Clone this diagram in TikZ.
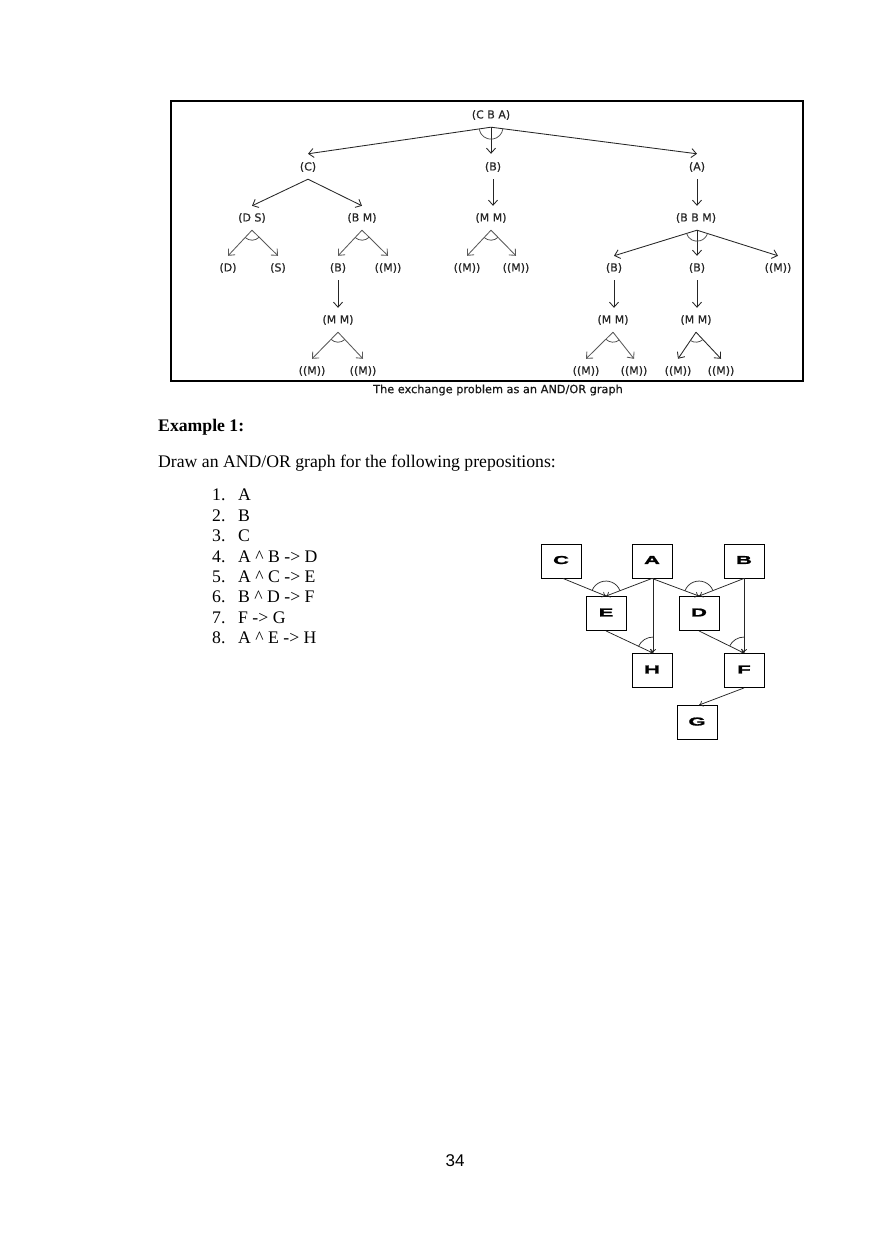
\documentclass[tikz,border=0pt]{standalone}
\usepackage{fontspec}
\usepackage{graphicx}
\setmainfont{Liberation Serif}
\newfontfamily\dvs[FakeBold=0.5]{DejaVu Sans}
\newfontfamily\lsans{Liberation Sans}
\newfontfamily\gfont[FakeBold=1.4]{Liberation Sans Bold}
\usetikzlibrary{arrows.meta,calc}
\newcommand\andarc[4]{%
  \draw[arcst] let \p1=($(#2)-(#1)$), \p2=($(#3)-(#1)$),
    \n1={atan2(\y1,\x1)}, \n2={atan2(\y2,\x2)} in
    ($(#1)+(\n1:#4pt)$) arc[start angle=\n1, end angle=\n2, radius=#4pt];}
\newcommand\gl[1]{\raisebox{2pt}{\scalebox{1.9}[1]{#1}}}
\begin{document}
\begin{tikzpicture}[x=1pt,y=-1pt,
  tn/.style={font=\dvs\fontsize{11}{13}\selectfont, text=black!85, inner sep=0pt, minimum height=24pt},
  arr/.style={draw=black!85, line width=0.85pt, -{Straight Barb[length=5pt,width=9pt]}},
  arrl/.style={draw=black!65, line width=0.85pt, -{Straight Barb[length=5pt,width=9pt]}},
  arcst/.style={draw=black!70, line width=0.75pt},
  body/.style={font=\fontsize{17.7}{21}\selectfont, anchor=west, inner sep=0pt},
  gbox/.style={draw=black, line width=0.9pt, minimum width=40pt, minimum height=34pt, inner sep=0pt,
    font=\gfont\fontsize{11.5}{12}\selectfont},
  garr/.style={draw=black!85, line width=0.75pt, -{To[length=4pt,width=6pt]}},
  garc/.style={draw=black!80, line width=0.75pt}
]
\useasboundingbox (0,0) rectangle (880,1244);
\fill[white] (0,0) rectangle (880,1244);

% ---------- top figure ----------
\draw[line width=2.6pt] (171,101) rectangle (803,381);

\node[tn] (cba) at (491,115) {(C B A)};
\node[tn] (c)   at (308,167) {(C)};
\node[tn] (b1)  at (493,167) {(B)};
\node[tn] (a)   at (697,167) {(A)};
\node[tn] (ds)  at (252,218) {(D S)};
\node[tn] (bm)  at (362,218) {(B M)};
\node[tn] (mm1) at (491,218) {(M M)};
\node[tn] (bbm) at (696,218) {(B B M)};
\node[tn] (d)   at (228,268) {(D)};
\node[tn] (s)   at (278,268) {(S)};
\node[tn] (b2)  at (338,268) {(B)};
\node[tn] (m1)  at (388,268) {((M))};
\node[tn] (m2)  at (467,268) {((M))};
\node[tn] (m3)  at (516,268) {((M))};
\node[tn] (b3)  at (614,268) {(B)};
\node[tn] (b4)  at (697,268) {(B)};
\node[tn] (m4)  at (778,268) {((M))};
\node[tn] (mm2) at (338,320) {(M M)};
\node[tn] (mm3) at (613,320) {(M M)};
\node[tn] (mm4) at (696,320) {(M M)};
\node[tn] (m5)  at (312,371) {((M))};
\node[tn] (m6)  at (363,371) {((M))};
\node[tn] (m7)  at (586,371) {((M))};
\node[tn] (m8)  at (634,371) {((M))};
\node[tn] (m9)  at (678,371) {((M))};
\node[tn] (m10) at (721,371) {((M))};

\draw[arr] (cba.south) -- ([yshift=1pt]c.north);
\draw[arr] (cba.south) -- ([yshift=1pt]cba.south |- b1.north);
\draw[arr] (cba.south) -- ([yshift=1pt]a.north);
\andarc{cba.south}{c.north}{a.north}{12}

\draw[arr] (c.south) -- (ds.north);
\draw[arr] (c.south) -- (bm.north);
\draw[arr] (b1.south) -- (b1.south |- mm1.north);
\draw[arr] (a.south) -- (a.south |- bbm.north);

\draw[arrl] (ds.south) -- (d.north);
\draw[arrl] (ds.south) -- (s.north);
\andarc{ds.south}{d.north}{s.north}{10}
\draw[arrl] (bm.south) -- (b2.north);
\draw[arrl] (bm.south) -- (m1.north);
\andarc{bm.south}{b2.north}{m1.north}{10}
\draw[arrl] (mm1.south) -- (m2.north);
\draw[arrl] (mm1.south) -- (m3.north);
\andarc{mm1.south}{m2.north}{m3.north}{10}
\draw[arr] (a.south |- bbm.south) -- (b3.north);
\draw[arr] (a.south |- bbm.south) -- (b4.north);
\draw[arr] (a.south |- bbm.south) -- (m4.north);
\andarc{a.south |- bbm.south}{b3.north}{m4.north}{11}

\draw[arr] (b2.south) -- (b2.south |- mm2.north);
\draw[arr] (b3.south) -- (b3.south |- mm3.north);
\draw[arr] (b4.south) -- (b4.south |- mm4.north);

\draw[arrl] (mm2.south) -- (m5.north);
\draw[arrl] (mm2.south) -- (m6.north);
\andarc{mm2.south}{m5.north}{m6.north}{10}
\draw[arrl] (mm3.south) -- (m7.north);
\draw[arrl] (mm3.south) -- (m8.north);
\andarc{mm3.south}{m7.north}{m8.north}{10}
\draw[arr] (mm4.south) -- (m9.north);
\draw[arr] (mm4.south) -- (m10.north);
\andarc{mm4.south}{m9.north}{m10.north}{10}

\node[font=\dvs\fontsize{11.3}{13}\selectfont, text=black!90, inner sep=0pt] (cap) at (498,390)
  {The exchange problem as an AND/OR graph};

% ---------- text ----------
\node[body, font=\bfseries\fontsize{17.7}{21}\selectfont] (ex) at (158,427) {Example 1:};
\node[body] (intro) at (158,463) {Draw an AND/OR graph for the following prepositions:};
\foreach \n/\t/\yy in {1/A/495, 2/B/515.5, 3/C/536, 4/{A \textasciicircum\ B -> D}/556.5,
  5/{A \textasciicircum\ C -> E}/577, 6/{B \textasciicircum\ D -> F}/597, 7/{F -> G}/617.5,
  8/{A \textasciicircum\ E -> H}/638}{
  \node[body] (n\n) at (212,\yy) {\n.};
  \node[body] (t\n) at (238,\yy) {\t};
}

% ---------- second figure ----------
\node[gbox] (gC) at (561,561) {\gl{C}};
\node[gbox] (gA) at (652,561) {\gl{A}};
\node[gbox] (gB) at (744,561) {\gl{B}};
\node[gbox] (gE) at (606,613.5) {\gl{E}};
\node[gbox] (gD) at (699,613.5) {\gl{D}};
\node[gbox] (gH) at (652,670.5) {\gl{H}};
\node[gbox] (gF) at (744,670.5) {\gl{F}};
\node[gbox] (gG) at (697,722.5) {\gl{G}};

\draw[garr] ([xshift=2pt]gC.south) -- (gE.north);
\draw[garr] (gA.south) -- (gE.north);
\draw[garc] let \p1=($(gA.south)-(gE.north)$), \p2=($([xshift=2pt]gC.south)-(gE.north)$),
    \n1={atan2(\y1,\x1)}, \n2={atan2(\y2,\x2)} in
    ($(gE.north)+(\n1:15pt)$) arc[start angle=\n1, end angle=\n2, radius=15pt];
\draw[garr] (gA.south) -- (gD.north);
\draw[garr] (gB.south) -- (gD.north);
\draw[garc] let \p1=($(gB.south)-(gD.north)$), \p2=($(gA.south)-(gD.north)$),
    \n1={atan2(\y1,\x1)}, \n2={atan2(\y2,\x2)} in
    ($(gD.north)+(\n1:15pt)$) arc[start angle=\n1, end angle=\n2, radius=15pt];
\draw[garr] ([xshift=1pt]gA.south) -- ([xshift=1pt]gH.north);
\draw[garr] (gE.south) -- ([xshift=1pt]gH.north);
\draw[garc] let \p2=($(gE.south)-(gH.north)$), \n2={atan2(\y2,\x2)} in
    ($([xshift=1pt]gH.north)+(90:16pt)$) arc[start angle=90, end angle=\n2, radius=16pt];
\draw[garr] (gB.south) -- (gF.north);
\draw[garr] (gD.south) -- (gF.north);
\draw[garc] let \p2=($(gD.south)-(gF.north)$), \n2={atan2(\y2,\x2)} in
    ($(gF.north)+(90:16pt)$) arc[start angle=90, end angle=\n2, radius=16pt];
\draw[garr] (gF.south) -- ([xshift=2pt]gG.north);

% ---------- page number ----------
\node[font=\lsans\fontsize{17}{20}\selectfont, inner sep=0pt] (pg) at (455,1161) {34};
\end{tikzpicture}
\end{document}
